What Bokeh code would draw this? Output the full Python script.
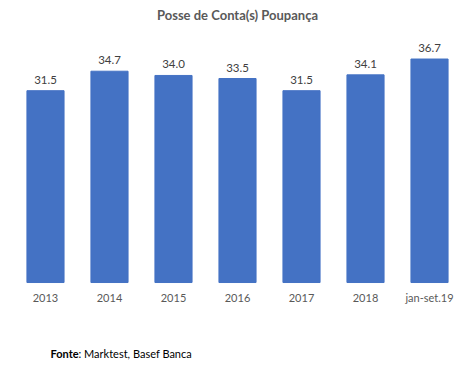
from bokeh.plotting import figure
from bokeh.models import Range1d
from bokeh.core.properties import value
from bokeh.embed import file_html
from bokeh.resources import INLINE

categories = ["2013", "2014", "2015", "2016", "2017", "2018", "jan-set.19"]
values = [31.5, 34.7, 34.0, 33.5, 31.5, 34.1, 36.7]
value_labels = ["31.5", "34.7", "34.0", "33.5", "31.5", "34.1", "36.7"]
title_text = "Posse de Conta(s) Poupança"
source_bold = "Fonte"
source_rest = ": Marktest, Basef Banca"

FONT = "Lato"
GREY = "#595959"
BLUE = "#4472C4"

xs = list(range(len(categories)))

p = figure(width=474, height=366, output_backend="svg", toolbar_location=None,
           x_axis_location=None, y_axis_location=None,
           x_range=Range1d(-0.703, 6.703), y_range=Range1d(-13.79, 46.31),
           min_border=0)

p.vbar(x=xs, top=values, width=0.58, color=BLUE)
p.text(x=xs, y=values, text=value_labels, text_align="center", text_baseline="alphabetic",
       y_offset=-11, text_font=value(FONT), text_font_size="11.5px", text_color="#404040")

# category labels (x axis)
p.text(x=xs, y=[0] * len(xs), text=categories, text_align="center", text_baseline="middle",
       y_offset=15, text_font=value(FONT), text_font_size="11px", text_color=GREY)

# title
p.text(x=[3], y=[44.0], text=[title_text], text_align="center", text_baseline="middle",
       text_font=value(FONT), text_font_size="13px", text_font_style="bold", text_color=GREY)

# source
p.text(x=[0.078], y=[-11.66], text=[source_bold], text_align="left", text_baseline="middle",
       text_font=value(FONT), text_font_size="11px", text_font_style="bold", text_color="#000000")
p.text(x=[0.078], y=[-11.66], x_offset=28, text=[source_rest], text_align="left",
       text_baseline="middle", text_font=value(FONT), text_font_size="11px", text_color="#000000")

p.outline_line_color = None
p.grid.visible = False

open("out.html", "w").write(file_html(p, INLINE))
